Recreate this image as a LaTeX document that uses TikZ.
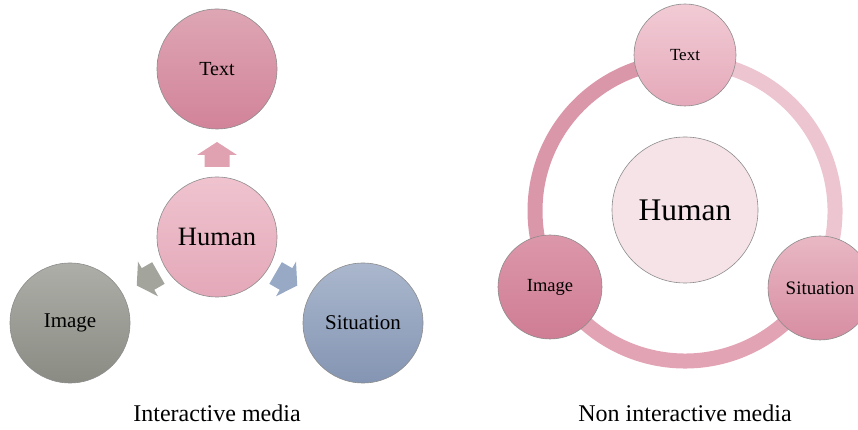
\documentclass[tikz,border=0pt]{standalone}
\usepackage{fontspec}
\setmainfont{Liberation Serif}
\begin{document}
\begin{tikzpicture}[x=1pt,y=1pt,
  bub/.style={circle, draw=black!45, line width=0.6pt, inner sep=0pt, minimum size=#1},
  blockarrow/.pic={\fill[pic actions] (-12,-12.5) -- (0,-12.5) -- (0,-20) -- (13,0) -- (0,20) -- (0,12.5) -- (-12,12.5) -- cycle;}
]
\useasboundingbox (0,0) rectangle (858,430);
\definecolor{txtT}{HTML}{DEA6B4}\definecolor{txtB}{HTML}{D2839A}
\definecolor{humT}{HTML}{EFC3CF}\definecolor{humB}{HTML}{E4A8B9}
\definecolor{imgT}{HTML}{ADAEA7}\definecolor{imgB}{HTML}{8A8B83}
\definecolor{sitT}{HTML}{AAB7CD}\definecolor{sitB}{HTML}{8495B3}
\definecolor{rtxtT}{HTML}{F1CBD5}\definecolor{rtxtB}{HTML}{E5A9BA}
\definecolor{rimgT}{HTML}{DC97AA}\definecolor{rimgB}{HTML}{CF7D94}
\definecolor{rsitT}{HTML}{E9B8C4}\definecolor{rsitB}{HTML}{D78DA2}
\definecolor{rhum}{HTML}{F6E3E8}
\definecolor{ringL}{HTML}{DB97AA}\definecolor{ringB}{HTML}{E2A3B4}\definecolor{ringR}{HTML}{ECC5D0}
\definecolor{arrP}{HTML}{E0A1B1}\definecolor{arrG}{HTML}{A3A59C}\definecolor{arrS}{HTML}{98A9C6}

% ---------- left: interactive media ----------
\node[bub=120pt, top color=txtT, bottom color=txtB] (t1) at (217,361) {\fontsize{20}{22}\selectfont Text};
\node[bub=120pt, top color=humT, bottom color=humB] (h1) at (217,193) {\fontsize{26.5}{28}\selectfont Human};
\node[bub=120pt, top color=imgT, bottom color=imgB] (i1) at (70,107) {\fontsize{21}{23}\selectfont Image};
\node[bub=120pt, top color=sitT, bottom color=sitB] (s1) at (363,107) {\fontsize{21}{23}\selectfont Situation};

\pic[fill=arrP, rotate=90] at (217,275) {blockarrow};
\pic[fill=arrG, rotate=210] at (148,151) {blockarrow};
\pic[fill=arrS, rotate=330] at (286,151) {blockarrow};

\node (c1) at (217,17) {\fontsize{24}{26}\selectfont Interactive media};

% ---------- right: non interactive media ----------
\coordinate (rc) at (685,219);
\draw[ringL, line width=15pt] (rc) ++(90:150) arc (90:210:150);
\draw[ringB, line width=15pt] (rc) ++(210:150) arc (210:330:150);
\draw[ringR, line width=15pt] (rc) ++(330:150) arc (330:450:150);

\node[bub=146pt, fill=rhum] (h2) at (685,220) {\fontsize{31.5}{33}\selectfont Human};
\node[bub=102pt, top color=rtxtT, bottom color=rtxtB] (t2) at (685,375) {\fontsize{17}{19}\selectfont Text};
\node[bub=104pt, top color=rimgT, bottom color=rimgB] (i2) at (550,143) {\fontsize{18.5}{20}\selectfont Image};
\node[bub=104pt, top color=rsitT, bottom color=rsitB] (s2) at (820,142) {\fontsize{19}{21}\selectfont Situation};

\node (c2) at (685,17) {\fontsize{24}{26}\selectfont Non interactive media};
\end{tikzpicture}
\end{document}
